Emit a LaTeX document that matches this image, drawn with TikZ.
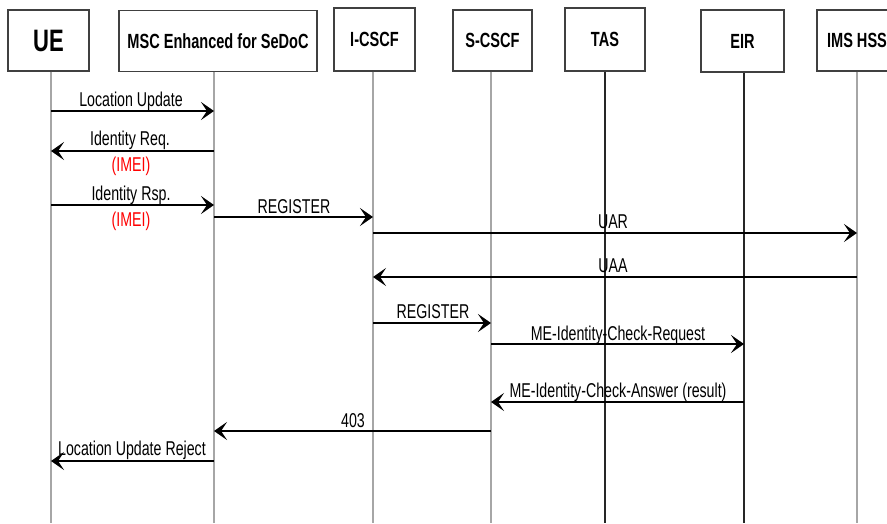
\documentclass[tikz,border=0pt]{standalone}
\usepackage{fontspec}
\setmainfont{Liberation Sans}[FakeStretch=0.71]
\usetikzlibrary{arrows.meta}

\begin{document}
\begin{tikzpicture}[x=1pt,y=-1pt,
  ent/.style={draw=black!75, line width=1.8pt, fill=white, inner sep=0pt,
    minimum height=61pt, font=\bfseries\fontsize{20.5}{22}\selectfont},
  life/.style={draw=black!35, line width=1.5pt},
  lifedark/.style={draw=black!85, line width=1.3pt},
  msg/.style={line width=2.6pt, -{Stealth[length=13pt,width=18pt,inset=6pt]}},
  msgthin/.style={msg, line width=2pt},
  lbl/.style={anchor=base, inner sep=0pt, font=\fontsize{20}{22}\selectfont},
  imei/.style={lbl, text=red}]

\fill[white] (0,0) rectangle (887,523);
\useasboundingbox (0,0) rectangle (887,523);
\clip (0,0) rectangle (887,523);

% participant boxes
\node[ent, minimum width=81pt, font=\bfseries\fontsize{31}{33}\selectfont] (ue) at (48.5,40.5) {UE};
\node[ent, minimum width=198pt] (msc) at (218,41) {MSC Enhanced for SeDoC};
\node[ent, minimum width=81pt, minimum height=63pt] (icscf) at (374.5,39.5) {I-CSCF};
\node[ent, minimum width=79pt] (scscf) at (492.5,40.5) {S-CSCF};
\node[ent, minimum width=80pt, minimum height=63pt] (tas) at (605,39.5) {TAS};
\node[ent, minimum width=83pt, minimum height=62pt] (eir) at (742.5,41) {EIR};
\node[ent, minimum width=80pt] (hss) at (857,40.5) {IMS HSS};

% lifelines
\coordinate (ueL) at (51,71.5);
\coordinate (mscL) at (214,71.5);
\coordinate (icscfL) at (373,71.5);
\coordinate (scscfL) at (491,71.5);
\coordinate (tasL) at (605,71.5);
\coordinate (eirL) at (744,72.5);
\coordinate (hssL) at (857,71.5);
\coordinate (bottom) at (0,523);

\draw[life] (ueL) -- (ueL |- bottom);
\draw[life] (mscL) -- (mscL |- bottom);
\draw[life] (icscfL) -- (icscfL |- bottom);
\draw[life] (scscfL) -- (scscfL |- bottom);
\draw[lifedark] (tasL) -- (tasL |- bottom);
\draw[lifedark] (eirL) -- (eirL |- bottom);
\draw[life] (hssL) -- (hssL |- bottom);

% messages
\draw[msg] (ueL |- 0,111) -- (mscL |- 0,111);
\node[lbl] (t1) at (131,106) {Location Update};

\draw[msg] (mscL |- 0,151) -- (ueL |- 0,151);
\node[lbl] (t2) at (130,145) {Identity Req.};
\node[imei] (t2b) at (131,171) {(IMEI)};

\draw[msg] (ueL |- 0,205) -- (mscL |- 0,205);
\node[lbl] (t3) at (131,200) {Identity Rsp.};
\node[imei] (t3b) at (131,226) {(IMEI)};

\draw[msg] (mscL |- 0,217) -- (icscfL |- 0,217);
\node[lbl] (t4) at (294,213) {REGISTER};

\draw[msgthin] (icscfL |- 0,233) -- (hssL |- 0,233);
\node[lbl] (t5) at (613,228) {UAR};

\draw[msgthin] (hssL |- 0,277) -- (icscfL |- 0,277);
\node[lbl] (t6) at (613,272) {UAA};

\draw[msgthin] (icscfL |- 0,323) -- (scscfL |- 0,323);
\node[lbl] (t7) at (433,318) {REGISTER};

\draw[msg] (scscfL |- 0,344) -- (eirL |- 0,344);
\node[lbl] (t8) at (618,340) {ME-Identity-Check-Request};

\draw[msg] (eirL |- 0,402) -- (scscfL |- 0,402);
\node[lbl] (t9) at (618,397) {ME-Identity-Check-Answer (result)};

\draw[msg] (scscfL |- 0,431) -- (mscL |- 0,431);
\node[lbl] (t10) at (353,427) {403};

\draw[msg] (mscL |- 0,461) -- (ueL |- 0,461);
\node[lbl] (t11) at (132,455) {Location Update Reject};

\end{tikzpicture}
\end{document}
